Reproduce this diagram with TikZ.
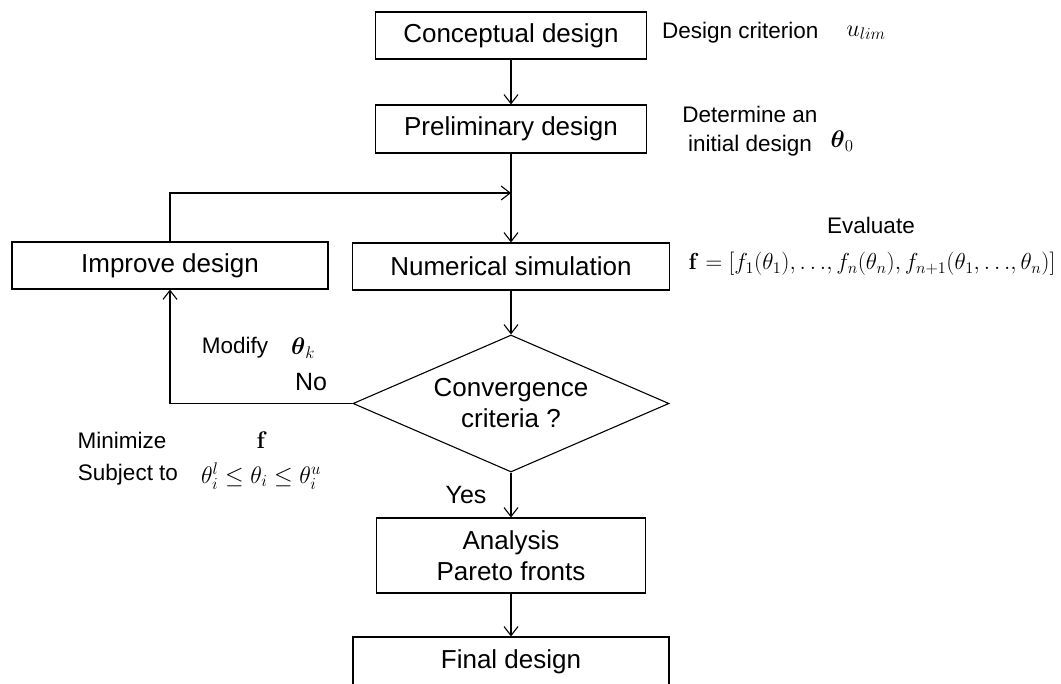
\RequirePackage{fix-cm}
\documentclass[tikz,border=0pt]{standalone}
\usepackage{amsmath,amssymb}
\usepackage[no-math]{fontspec}
\setmainfont{Liberation Sans}
\usetikzlibrary{shapes.geometric,arrows.meta}
\begin{document}
\begin{tikzpicture}[x=1pt,y=-1pt,
  box/.style={draw, line width=1.1pt, inner sep=0pt, font=\fontsize{26}{31}\selectfont, align=center},
  lbl/.style={inner sep=0pt, font=\fontsize{22.5}{29}\selectfont, align=center},
  big/.style={inner sep=0pt, font=\fontsize{25}{30}\selectfont},
  mth/.style={inner sep=0pt, font=\fontsize{24}{28}\selectfont},
  arr/.style={line width=1.1pt, -{Straight Barb[length=9pt,width=14pt]}}]
\useasboundingbox (0,0) rectangle (1061,684);
\clip (0,0) rectangle (1061,684);
% main boxes
\node[box, minimum width=271pt, minimum height=47pt] (concept) at (511,35.5) {Conceptual design};
\node[box, minimum width=271pt, minimum height=48pt] (prelim) at (511,129) {Preliminary design};
\node[box, minimum width=316pt, minimum height=47pt] (improve) at (170,265.5) {Improve design};
\node[box, minimum width=317pt, minimum height=47pt] (numsim) at (511,266.5) {Numerical simulation};
\node[box, shape=diamond, aspect=2.3, minimum width=316pt, minimum height=137pt] (conv) at (511,403.5) {Convergence\\criteria ?};
\node[box, minimum width=269pt, minimum height=75pt] (analysis) at (511,555.5) {Analysis\\Pareto fronts};
\node[box, minimum width=316pt, minimum height=50pt] (final) at (511,662) {Final design};
\coordinate (junc) at (511,193);
% connectors
\draw[arr] (concept) -- (prelim);
\draw[arr] (prelim) -- (numsim);
\draw[arr] (improve.north) |- (junc);
\draw[arr] (numsim) -- (conv);
\draw[arr] (conv.west) -| (improve.south);
\draw[arr] (conv) -- (analysis);
\draw[arr] (analysis) -- (final);
% labels
\node[lbl, anchor=west] (crit) at (662,33) {Design criterion};
\node[mth] (ulim) at (866,33) {$u_{lim}$};
\node[lbl] (determ) at (750,131) {Determine an\\initial design};
\node[mth] (theta0) at (842,141) {$\boldsymbol{\theta}_0$};
\node[lbl] (eval) at (871,225) {Evaluate};
\node[mth, font=\fontsize{23.2}{28}\selectfont] (fvec) at (872,264) {$\mathbf{f}=[f_1(\theta_1),{\ldots},f_n(\theta_n),f_{n+1}(\theta_1,{\ldots},\theta_n)]$};
\node[lbl] (modify) at (235,348) {Modify};
\node[mth] (thetak) at (303,348) {$\boldsymbol{\theta}_k$};
\node[big] (no) at (311,382) {No};
\node[lbl] (minim) at (122,440) {Minimize};
\node[mth] (fmin) at (262,440) {$\mathbf{f}$};
\node[lbl] (subj) at (128,475) {Subject to};
\node[mth] (bounds) at (261,476) {$\theta_i^l\le\theta_i\le\theta_i^u$};
\node[big] (yes) at (466,495) {Yes};
\end{tikzpicture}
\end{document}
